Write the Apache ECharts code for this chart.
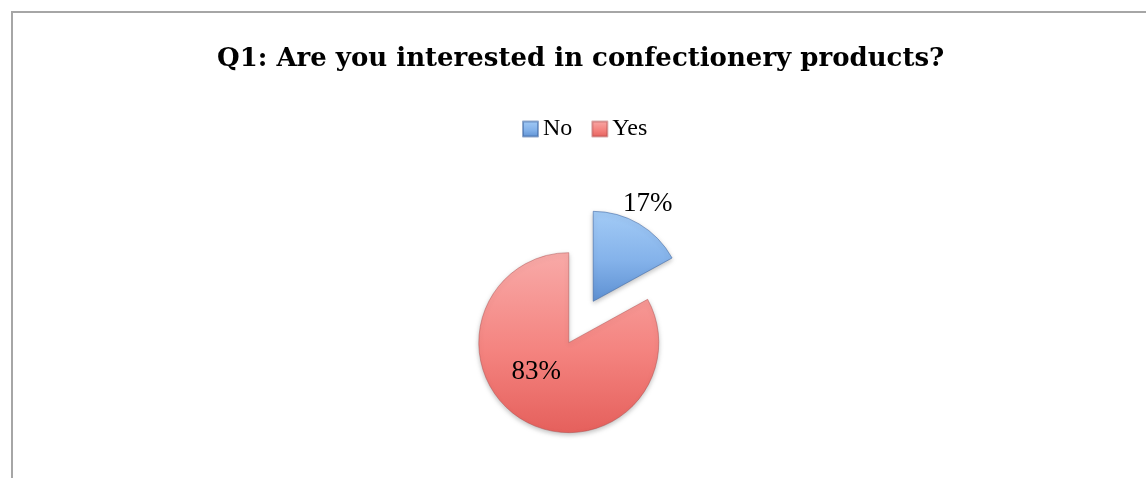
<!DOCTYPE html>
<html>
<head>
<meta charset="utf-8">
<script src="https://cdn.jsdelivr.net/npm/echarts@6/dist/echarts.min.js"></script>
<style>
  html, body { margin: 0; padding: 0; background: #ffffff; }
  #frame { position: absolute; left: 11px; top: 11px; width: 1160px; height: 500px;
           border-left: 2px solid #a6a6a6; border-top: 2px solid #a6a6a6; box-sizing: border-box; }
  #chart { position: absolute; left: 0; top: 0; width: 1146px; height: 478px; }
</style>
</head>
<body>
<div id="frame"></div>
<div id="chart"></div>
<script>
// Survey answers for question 1
const titleText = 'Q1: Are you interested in confectionery products?';
const categories = ['No', 'Yes'];
const shares = [17, 83];

// Fill gradients per answer (light top, darker bottom)
const fills = [
  ['#a3cbf6', '#84b2ea', '#5d90d2'],
  ['#f8aaa8', '#f4837f', '#e5605c']
];
// Label nudges relative to the slice centre point
const labelNudge = [[30, -56], [-8, -12]];

function grad(c) {
  return new echarts.graphic.LinearGradient(0, 0, 0, 1, [
    { offset: 0, color: c[0] },
    { offset: 0.55, color: c[1] },
    { offset: 1, color: c[2] }
  ]);
}

const chart = echarts.init(document.getElementById('chart'), null, { renderer: 'canvas' });

chart.setOption({
  backgroundColor: 'transparent',
  animation: false,
  title: {
    text: titleText,
    left: 212,
    top: 41,
    textStyle: {
      fontFamily: 'DejaVu Serif',
      fontWeight: 'bold',
      fontSize: 26,
      color: '#000000'
    }
  },
  legend: {
    data: categories,
    left: 517,
    top: 112,
    itemWidth: 15,
    itemHeight: 15,
    itemGap: 19,
    icon: 'rect',
    textStyle: {
      fontFamily: 'Liberation Serif',
      fontSize: 24,
      color: '#000000'
    },
    selectedMode: false
  },
  series: [{
    type: 'pie',
    center: [581, 322],
    radius: [0, 90],
    startAngle: 90,
    clockwise: true,
    selectedMode: 'multiple',
    selectedOffset: 24,
    emphasis: { disabled: true },
    data: categories.map((name, i) => ({
      name: name,
      value: shares[i],
      selected: true,
      itemStyle: {
        color: grad(fills[i]),
        borderColor: i === 0 ? 'rgba(60,100,160,0.55)' : 'rgba(170,70,70,0.45)',
        borderWidth: 1,
        shadowBlur: 5,
        shadowOffsetY: 2,
        shadowColor: 'rgba(0,0,0,0.25)'
      }
    })),
    label: {
      show: true,
      position: 'inside',
      formatter: p => p.value + '%',
      fontFamily: 'Liberation Serif',
      fontSize: 27,
      color: '#000000'
    },
    labelLine: { show: false },
    labelLayout: p => ({ dx: labelNudge[p.dataIndex][0], dy: labelNudge[p.dataIndex][1] })
  }]
});
</script>
</body>
</html>
